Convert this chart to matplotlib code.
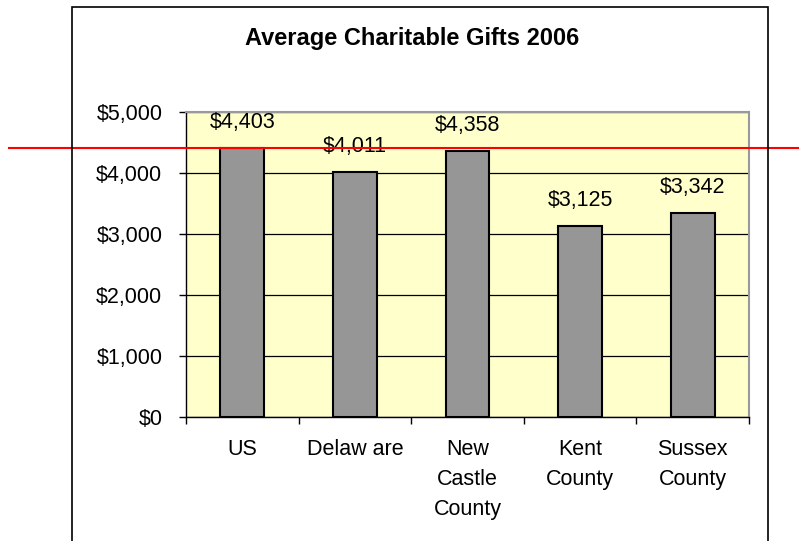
from matplotlib import pyplot as plt
from matplotlib import transforms
from matplotlib.patches import Rectangle
import numpy as np

# data
categories = ['US', 'Delaw are', 'New\nCastle\nCounty', 'Kent\nCounty', 'Sussex\nCounty']
gifts = [4403, 4011, 4358, 3125, 3342]
value_labels = ['$4,403', '$4,011', '$4,358', '$3,125', '$3,342']
y_ticks = [0, 1000, 2000, 3000, 4000, 5000]
y_tick_labels = ['$0', '$1,000', '$2,000', '$3,000', '$4,000', '$5,000']
reference_value = gifts[0]

plt.rcParams['font.family'] = ['Liberation Sans', 'DejaVu Sans']

fig = plt.figure(figsize=(7.99, 5.41), dpi=100)
fig.patch.set_facecolor('white')

# outer chart border (open at the bottom)
fig.add_artist(Rectangle((72/799, -0.05), (768-72)/799, 1.05 - 7/541,
                         transform=fig.transFigure, fill=False,
                         edgecolor='black', linewidth=1.2))

ax = fig.add_axes([186/799, 1-417/541, (749-186)/799, (417-112)/541])
ax.set_facecolor('#FFFFCC')

x = np.arange(len(categories))
ax.bar(x, gifts, width=0.39, color='#969696', edgecolor='black',
       linewidth=1.5, zorder=3)

for xi, v, lab in zip(x, gifts, value_labels):
    ax.annotate(lab, (xi, v), xytext=(0, 26), textcoords='offset pixels',
                ha='center', va='center', fontsize=15.5, zorder=4)

ax.set_xlim(-0.5, len(categories) - 0.5)
ax.set_ylim(0, 5000)
ax.set_yticks(y_ticks)
ax.set_yticklabels(y_tick_labels, fontsize=15.5)
ax.yaxis.grid(True, color='black', linewidth=0.9, zorder=0)
ax.set_axisbelow(True)

# category labels centred, ticks between categories
ax.set_xticks(x)
ax.set_xticklabels(categories, fontsize=15.5, linespacing=1.55, va='top')
ax.tick_params(axis='x', which='major', length=0, pad=16)
ax.set_xticks(np.arange(-0.5, len(categories)), minor=True)
ax.tick_params(axis='x', which='minor', length=5, width=1, direction='out')
ax.tick_params(axis='y', length=5, width=1, direction='out', pad=12)

for s in ['top', 'right']:
    ax.spines[s].set_color('#999999')
    ax.spines[s].set_linewidth(1.5)
for s in ['left', 'bottom']:
    ax.spines[s].set_color('black')
    ax.spines[s].set_linewidth(1)

fig.text(412/799, 1-38/541, 'Average Charitable Gifts 2006',
         ha='center', va='center', fontsize=17, fontweight='bold')

# red reference line at the US level across the figure
trans = transforms.blended_transform_factory(fig.transFigure, ax.transData)
ax.plot([9/799, 1.0], [reference_value, reference_value], color='red',
        linewidth=1.5, transform=trans, clip_on=False, zorder=5)

fig.savefig('out.png', dpi=100)
